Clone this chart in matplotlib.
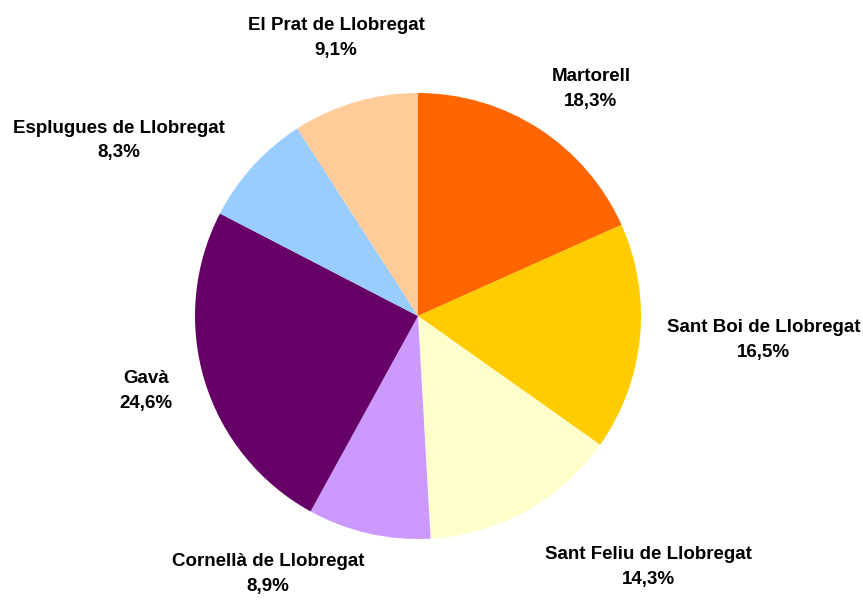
import numpy as np
import matplotlib.pyplot as plt

# shares by municipality (clockwise from top)
labels = ['Martorell', 'Sant Boi de Llobregat', 'Sant Feliu de Llobregat',
          'Cornellà de Llobregat', 'Gavà', 'Esplugues de Llobregat',
          'El Prat de Llobregat']
values = [18.3, 16.5, 14.3, 8.9, 24.6, 8.3, 9.1]
colors = ['#FF6600', '#FFCC00', '#FFFFCC', '#CC99FF', '#660066', '#99CCFF', '#FFCC99']

# label placement per slice (style only)
ha_list = ['left', 'left', 'left', 'right', 'right', 'right', 'center']
va_list = ['bottom', 'center', 'top', 'top', 'center', 'center', 'center']
dist_list = [1.10, 1.12, 1.18, 1.09, 1.15, 1.17, 1.30]

plt.rcParams['font.family'] = ['Liberation Sans', 'DejaVu Sans']

W, H = 863, 606
cx, cy, R = 418, 290, 223  # pixel centre (from bottom) and radius
fig = plt.figure(figsize=(W / 100, H / 100), dpi=100)
ax = fig.add_axes([0, 0, 1, 1])

wedges, _ = ax.pie(values, colors=colors, startangle=90, counterclock=False,
                   wedgeprops=dict(linewidth=0))
ax.set_aspect('auto')
ax.set_xlim(-cx / R, (W - cx) / R)
ax.set_ylim(-cy / R, (H - cy) / R)
ax.axis('off')

for w, lab, val, ha, va, d in zip(wedges, labels, values, ha_list, va_list, dist_list):
    ang = np.deg2rad((w.theta1 + w.theta2) / 2)
    x, y = d * np.cos(ang), d * np.sin(ang)
    txt = f"{lab}\n{val:.1f}%".replace('.', ',')
    ax.text(x, y, txt, ha=ha, va=va, multialignment='center',
            fontsize=13.5, fontweight='bold', linespacing=1.6)

fig.savefig('out.png', dpi=100)
